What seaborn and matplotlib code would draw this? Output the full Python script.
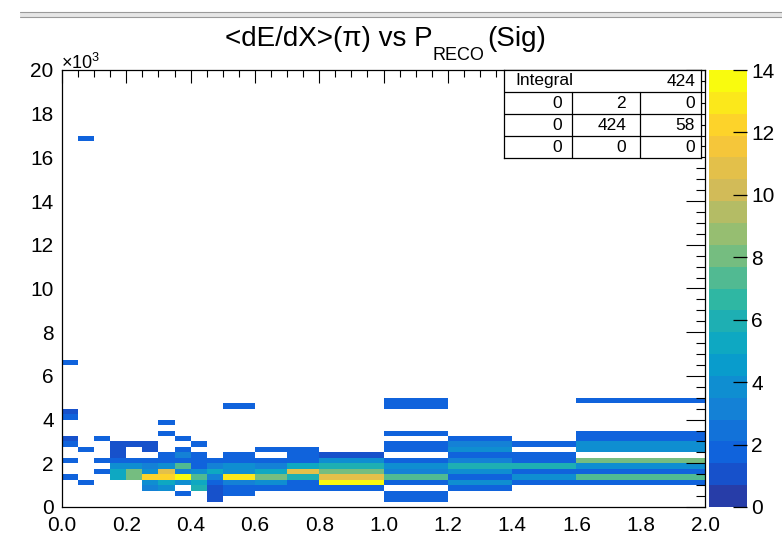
import numpy as np
import pandas as pd
import matplotlib
matplotlib.use("Agg")
import matplotlib.pyplot as plt
import seaborn as sns
from matplotlib.colors import ListedColormap, LinearSegmentedColormap
from matplotlib.ticker import MultipleLocator, FuncFormatter
from matplotlib.patches import Rectangle
from matplotlib.transforms import IdentityTransform

# ---------------- data ----------------
x_edges = [0.0, 0.05, 0.10, 0.15, 0.20, 0.25, 0.30, 0.35, 0.40, 0.45, 0.50,
           0.60, 0.70, 0.80, 1.00, 1.20, 1.40, 1.60, 2.00]
y_bin_width = 250.0
y_max = 20000.0

# per filled cell: x-bin index, y-bin index (bins of 250), content
cell_xbin = (
    [0] * 7 + [1] * 3 + [2] * 3 + [3] * 7 + [4] * 5 + [5] * 8 + [6] * 9 +
    [7] * 9 + [8] * 8 + [9] * 8 + [10] * 9 + [11] * 7 + [12] * 8 + [13] * 7 +
    [14] * 12 + [15] * 10 + [16] * 7 + [17] * 10
)
cell_ybin = [
    26, 17, 16, 12, 11, 8, 5,                 # 0.00-0.05
    67, 10, 4,                                # 0.05-0.10
    12, 8, 6,                                 # 0.10-0.15
    11, 10, 9, 8, 7, 6, 5,                    # 0.15-0.20
    11, 8, 7, 6, 5,                           # 0.20-0.25
    11, 10, 8, 7, 6, 5, 4, 3,                 # 0.25-0.30
    15, 13, 9, 8, 7, 6, 5, 4, 3,              # 0.30-0.35
    12, 10, 9, 8, 7, 6, 5, 4, 2,              # 0.35-0.40
    11, 9, 8, 7, 6, 5, 4, 3,                  # 0.40-0.45
    8, 7, 6, 5, 4, 3, 2, 1,                   # 0.45-0.50
    18, 9, 8, 7, 6, 5, 4, 3, 2,               # 0.5-0.6
    10, 8, 7, 6, 5, 4, 3,                     # 0.6-0.7
    10, 9, 8, 7, 6, 5, 4, 3,                  # 0.7-0.8
    9, 8, 7, 6, 5, 4, 3,                      # 0.8-1.0
    19, 18, 13, 11, 10, 8, 7, 6, 5, 4, 2, 1,  # 1.0-1.2
    12, 11, 10, 9, 8, 7, 6, 5, 4, 3,          # 1.2-1.4
    11, 9, 8, 7, 6, 5, 4,                     # 1.4-1.6
    19, 13, 12, 11, 10, 8, 7, 6, 5, 4,        # 1.6-2.0
]
cell_count = [
    2, 1, 2, 1, 2, 2, 2,
    2, 2, 2,
    2, 2, 2,
    1, 1, 1, 2, 4, 5, 5,
    1, 2, 4, 8, 8,
    1, 1, 2, 3, 4, 12, 4, 3,
    2, 2, 2, 2, 4, 11, 12, 5, 4,
    2, 2, 3, 2, 7, 3, 14, 4, 2,
    2, 2, 2, 2, 4, 7, 5, 6,
    2, 3, 5, 3, 2, 1, 1, 1,
    2, 2, 2, 4, 4, 13, 3, 2, 2,
    2, 2, 3, 5, 8, 4, 2,
    2, 2, 2, 5, 11, 6, 2, 2,
    1, 4, 6, 8, 11, 14, 2,
    2, 2, 2, 2, 2, 2, 4, 3, 7, 2, 2, 2,
    2, 3, 4, 2, 3, 6, 4, 2, 4, 2,
    2, 2, 2, 6, 2, 4, 2,
    2, 2, 2, 4, 4, 8, 4, 2, 7, 2,
]
z_max = 14
z_ticks = [0, 2, 4, 6, 8, 10, 12, 14]
x_ticklabels = ["0.0", "0.2", "0.4", "0.6", "0.8", "1.0", "1.2", "1.4", "1.6", "1.8", "2.0"]
stats_rows = [["0", "2", "0"], ["0", "424", "58"], ["0", "0", "0"]]
integral_text = "424"

# ---------------- derived ----------------
x_edges_arr = np.array(x_edges)
x_centers = 0.5 * (x_edges_arr[:-1] + x_edges_arr[1:])
y_edges = np.arange(0, y_max + y_bin_width, y_bin_width)
df = pd.DataFrame({
    "p": x_centers[np.array(cell_xbin)],
    "dedx": (np.array(cell_ybin) + 0.5) * y_bin_width,
    "n": np.array(cell_count, dtype=float),
})

# ROOT kBird palette, 20 contour levels
stops = [0.0, 0.125, 0.25, 0.375, 0.5, 0.625, 0.75, 0.875, 1.0]
red = [0.2082, 0.0592, 0.0780, 0.0232, 0.1802, 0.5301, 0.8186, 0.9956, 0.9764]
green = [0.1664, 0.3599, 0.5041, 0.6419, 0.7178, 0.7492, 0.7328, 0.7862, 0.9832]
blue = [0.5293, 0.8684, 0.8385, 0.7914, 0.6425, 0.4662, 0.3499, 0.1968, 0.0539]
bird = LinearSegmentedColormap.from_list("bird", list(zip(stops, zip(red, green, blue))))
cmap = ListedColormap([bird((i + 1) / 20) for i in range(20)])

# ---------------- figure ----------------
sns.set_style("white")
plt.rcParams["font.family"] = ["Liberation Sans", "DejaVu Sans"]
plt.rcParams["mathtext.fontset"] = "custom"
plt.rcParams["mathtext.rm"] = "Liberation Sans"
plt.rcParams["mathtext.it"] = "Liberation Sans:italic"
plt.rcParams["mathtext.bf"] = "Liberation Sans:bold"
plt.rcParams["axes.axisbelow"] = False
for key in ["text.color", "xtick.color", "ytick.color", "axes.labelcolor", "axes.edgecolor"]:
    plt.rcParams[key] = "black"

W, H = 782, 539
fig = plt.figure(figsize=(W / 100, H / 100), dpi=100)
fig.patch.set_facecolor("white")
ax = fig.add_axes([62 / W, 1 - 507 / H, (705 - 62) / W, (507 - 70) / H])
cax = fig.add_axes([709 / W, 1 - 507 / H, (747 - 709) / W, (507 - 70) / H])

sns.histplot(data=df, x="p", y="dedx", weights="n", bins=[x_edges_arr, y_edges],
             cmap=cmap, vmin=0, vmax=z_max, cbar=True, cbar_ax=cax, ax=ax)

ax.set_xlim(0, 2)
ax.set_ylim(0, y_max)
ax.set_xlabel("")
ax.set_ylabel("")
ax.set_axisbelow(False)
for s in ax.spines.values():
    s.set_visible(True)
    s.set_color("black")
    s.set_linewidth(0.9)

ax.xaxis.set_major_locator(MultipleLocator(0.2))
ax.xaxis.set_minor_locator(MultipleLocator(0.05))
ax.yaxis.set_major_locator(MultipleLocator(2000))
ax.yaxis.set_minor_locator(MultipleLocator(500))
ax.xaxis.set_major_formatter(FuncFormatter(lambda v, _: x_ticklabels[int(round(v / 0.2))]
                                           if 0 <= int(round(v / 0.2)) < len(x_ticklabels) else ""))
ax.yaxis.set_major_formatter(FuncFormatter(lambda v, _: f"{v / 1000:g}"))
ax.tick_params(which="both", direction="in", top=True, right=True, color="black", width=0.8)
ax.tick_params(axis="x", which="major", length=9.4, labelsize=15, pad=6.5)
ax.tick_params(axis="x", which="minor", length=4.7)
ax.tick_params(axis="y", which="major", length=13.7, labelsize=15, pad=6)
ax.tick_params(axis="y", which="minor", length=6.8)

cb = ax.collections[0].colorbar
cb.set_ticks(z_ticks)
cb.outline.set_visible(False)
cax.set_axisbelow(False)
cax.minorticks_off()
cax.yaxis.set_ticks_position("right")
cax.tick_params(direction="in", length=10, width=0.9, labelsize=15, pad=3,
                right=True, left=False, color="black")

# exponent label
fig.text(61, H - 69, r"×10$^{3}$", fontsize=13, transform=IdentityTransform(),
         ha="left", va="baseline")

# title pieces
tt = IdentityTransform()
fig.text(225, H - 46, "<dE/dX>(π) vs P", fontsize=20, transform=tt, ha="left", va="baseline")
fig.text(432, H - 60, "RECO", fontsize=13, transform=tt, ha="left", va="baseline")
fig.text(487, H - 46, "(Sig)", fontsize=20, transform=tt, ha="left", va="baseline")

# window-like gray lines at the top
fig.add_artist(Rectangle((20 / W, 1 - 17 / H), 1 - 20 / W, 5 / H, transform=fig.transFigure,
                         facecolor="#e6e6e6", edgecolor="none"))
fig.add_artist(plt.Line2D([20 / W, 1], [1 - 12 / H] * 2, transform=fig.transFigure,
                          color="#9a9a9a", lw=0.8))
fig.add_artist(plt.Line2D([20 / W, 1], [1 - 17 / H] * 2, transform=fig.transFigure,
                          color="#9a9a9a", lw=0.8))

# statistics box
sx0, sx1, sy0, sy1 = 504, 701, 70, 158
sax = fig.add_axes([sx0 / W, 1 - sy1 / H, (sx1 - sx0) / W, (sy1 - sy0) / H])
sax.set_xlim(0, 1)
sax.set_ylim(0, 4)
sax.set_xticks([])
sax.set_yticks([])
sax.set_facecolor("white")
for s in sax.spines.values():
    s.set_visible(True)
    s.set_color("black")
    s.set_linewidth(0.9)
for yy in [1, 2, 3]:
    sax.plot([0, 1], [yy, yy], color="black", lw=0.9)
c1 = (571.7 - sx0) / (sx1 - sx0)
c2 = (640 - sx0) / (sx1 - sx0)
for cx in [c1, c2]:
    sax.plot([cx, cx], [0, 3], color="black", lw=0.9)
sax.text(0.056, 3.5, "Integral", fontsize=12.5, ha="left", va="center")
sax.text(0.97, 3.5, integral_text, fontsize=12.5, ha="right", va="center")
col_right = [c1 - 0.05, c2 - 0.07, 0.97]
for r, row in enumerate(stats_rows):
    yy = 2.5 - r
    for c, txt in enumerate(row):
        sax.text(col_right[c], yy, txt, fontsize=12.5, ha="right", va="center")

fig.savefig("out.png", dpi=100)
